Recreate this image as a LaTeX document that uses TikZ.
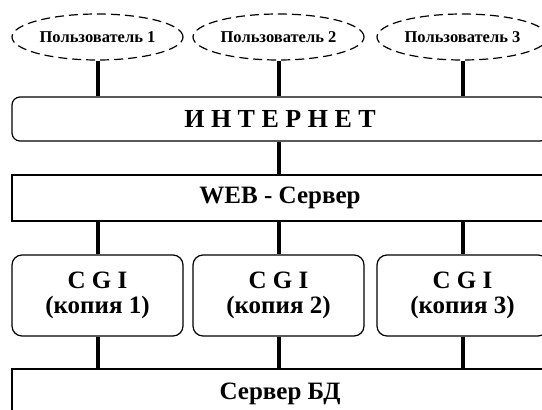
\documentclass[tikz,border=0pt]{standalone}
\usepackage{fontspec}
\setmainfont{Liberation Serif}
\usetikzlibrary{shapes.geometric}

\begin{document}
\begin{tikzpicture}[x=1pt,y=-1pt,
    userell/.style={draw,ellipse,line width=1.2pt,dash pattern=on 9pt off 5pt,
      minimum width=171pt,minimum height=46pt,inner sep=0pt,font=\bfseries\fontsize{16.5}{18}\selectfont},
    bigbox/.style={draw,line width=1.2pt,minimum width=536pt,inner sep=0pt,font=\bfseries\fontsize{25}{28}\selectfont},
    cgibox/.style={draw,line width=1.2pt,rounded corners=10pt,minimum width=171pt,minimum height=81pt,
      inner sep=0pt,align=center,font=\bfseries\fontsize{25}{25}\selectfont},
    link/.style={line width=4pt}]
     \useasboundingbox (0,0) rectangle (542,410);

     \newcommand\userblock[3]{%{name}{x}{number}
     \node[userell] (#1) at (#2,37) {Пользователь #3};
     }
     \newcommand\cgiblock[3]{%{name}{x}{number}
     \node[cgibox] (#1) at (#2,295.5) {C G I\\(копия #3)};
     }

     % users
     \userblock{u1}{97.5}{1}
     \userblock{u2}{278.5}{2}
     \userblock{u3}{462.5}{3}

     % main blocks
     \node[bigbox,rounded corners=8pt,minimum height=44pt,font=\bfseries\fontsize{26}{28}\selectfont]
        (inet) at (280,119) {И Н Т Е Р Н Е Т};
     \node[bigbox,minimum height=46pt] (web) at (280,198) {WEB - Сервер};
     \cgiblock{c1}{97.5}{1}
     \cgiblock{c2}{278.5}{2}
     \cgiblock{c3}{462.5}{3}
     \node[bigbox,minimum height=50pt] (db) at (280,394) {Сервер БД};

     % links
     \draw[link] (u1.south) -- (u1.south |- inet.north);
     \draw[link] (u2.south) -- (u2.south |- inet.north);
     \draw[link] (u3.south) -- (u3.south |- inet.north);
     \draw[link] (inet.south -| u2) -- (web.north -| u2);
     \draw[link] (web.south -| c1) -- (c1.north);
     \draw[link] (web.south -| c2) -- (c2.north);
     \draw[link] (web.south -| c3) -- (c3.north);
     \draw[link] (c1.south) -- (c1.south |- db.north);
     \draw[link] (c2.south) -- (c2.south |- db.north);
     \draw[link] (c3.south) -- (c3.south |- db.north);
\end{tikzpicture}
\end{document}
